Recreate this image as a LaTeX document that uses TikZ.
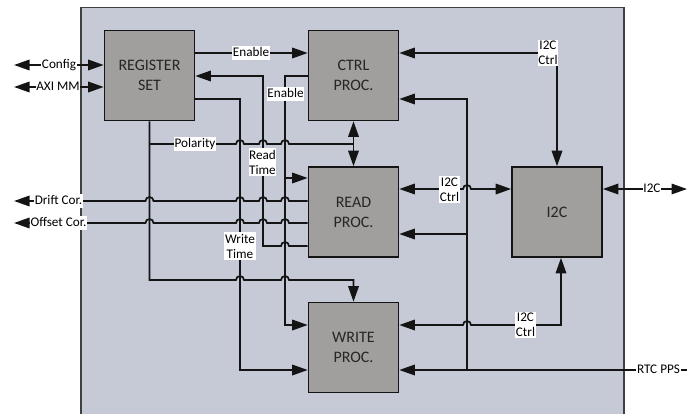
\documentclass[tikz,border=0pt]{standalone}
\usepackage{fontspec}
\setmainfont{Carlito}
\usepackage{xcolor}
\usetikzlibrary{arrows.meta}
\usetikzlibrary{math}
\definecolor{myframe}{RGB}{198,202,214}
\definecolor{myblock}{RGB}{160,159,157}
\definecolor{myline}{RGB}{20,20,20}

% small bump where a wire crosses another one
\newcommand{\hopover}[2]{-- ({#1-4},#2) arc[start angle=180,end angle=0,radius=4pt]}

\begin{document}
\begin{tikzpicture}[x=1pt,y=-1pt,
  block/.style={draw=myline,line width=1.6pt,fill=myblock,minimum width=90pt,minimum height=90pt,
    align=center,font=\fontsize{16}{20}\selectfont,text=black!85},
  wire/.style={line width=1.7pt,draw=myline},
  lbl/.style={fill=white,inner xsep=0.6pt,inner ysep=0.8pt,text height=9.8pt,text depth=3pt,
    font=\fontsize{13.2}{15}\selectfont},
  lbltwo/.style={fill=white,inner xsep=0.6pt,inner ysep=1.5pt,align=center,
    font=\fontsize{13.2}{15}\selectfont},
  >={Triangle[length=15.5pt,width=10.5pt]}]
\tikzmath{
\xr=149.5; \xa=240; \xb=263; \xc=285; \xp=467;
}
\useasboundingbox (0,0) rectangle (688,413);

\draw[line width=1.5pt,draw=black!75,fill=myframe] (81,7.5) rectangle (624,430);

\node[block] (reg) at (\xr,75.5) {REGISTER\\SET};
\node[block] (ctrl) at (353.5,75.5) {CTRL\\PROC.};
\node[block] (read) at (353.5,212) {READ\\PROC.};
\node[block] (write) at (353.5,347.5) {WRITE\\PROC.};
\node[block] (i2c) at (557,212) {I2C};

\draw[wire,<->] (14,65) -- (reg.west |- 0,65);
\draw[wire,<->] (14,87) -- (reg.west |- 0,87);
\draw[wire,->] (reg.east |- 0,53) -- (ctrl.west |- 0,53);
\draw[wire,<-] (reg.east |- 0,76) -- (\xb,76) -- (\xb,246) \hopover{\xc}{246} -- (read.west |- 0,246);
\draw[wire,->] (reg.east |- 0,99) -- (\xa,99) -- (\xa,370) -- (write.west |- 0,370);
\draw[wire,->] (ctrl.west |- 0,76) -- (\xc,76) -- (\xc,325) -- (write.west |- 0,325);
\draw[wire,->] (\xc,178) -- (read.west |- 0,178);
\draw[wire,<->] (ctrl.south) -- (read.north);
\draw[wire,->] (reg.south) -- (\xr,280) \hopover{\xa}{280} \hopover{\xc}{280} -- (write.north |- 0,280) -- (write.north);
\draw[wire] (\xr,144) \hopover{\xa}{144} \hopover{\xb}{144} \hopover{\xc}{144} -- (ctrl.south |- 0,144);
\draw[wire,<-] (14,201) \hopover{\xr}{201} \hopover{\xa}{201} \hopover{\xb}{201} \hopover{\xc}{201} -- (read.west |- 0,201);
\draw[wire,<-] (14,223) \hopover{\xr}{223} \hopover{\xa}{223} \hopover{\xb}{223} \hopover{\xc}{223} -- (read.west |- 0,223);

\draw[wire,<->] (ctrl.east |- 0,53) -- (i2c.north |- 0,53) -- (i2c.north);
\draw[wire,->] (687,370) -- (write.east |- 0,370);
\draw[wire,->] (\xp,370) -- (\xp,99) -- (ctrl.east |- 0,99);
\draw[wire,->] (\xp,234) -- (read.east |- 0,234);
\draw[wire,<->] (read.east |- 0,189) \hopover{\xp}{189} -- (i2c.west |- 0,189);
\draw[wire,<->] (write.east |- 0,325) \hopover{\xp}{325} -- (561,325) -- ([xshift=4pt]i2c.south);
\draw[wire,<->] (i2c.east |- 0,189) -- (687,189);

\node[lbl] (lcfg) at (59,65) {Config};
\node[lbl] (laxi) at (58,87) {AXI MM};
\node[lbl] (lena) at (251,53) {Enable};
\node[lbl] (lenb) at (285.5,94) {Enable};
\node[lbltwo] (lrdt) at (262.5,162) {Read\\Time};
\node[lbltwo] (lwrt) at (240,246) {Write\\Time};
\node[lbl] (lpol) at (195,144) {Polarity};
\node[lbl] (ldrf) at (58.5,201) {Drift Cor.};
\node[lbl] (loff) at (58.5,223) {Offset Cor.};
\node[lbltwo] (lica) at (548,53) {I2C\\Ctrl};
\node[lbltwo] (licb) at (449.5,189.5) {I2C\\Ctrl};
\node[lbltwo] (licc) at (525.5,325) {I2C\\Ctrl};
\node[lbl] (lbus) at (652,189) {I2C};
\node[lbl] (lpps) at (658.5,370) {RTC PPS};

\end{tikzpicture}
\end{document}
